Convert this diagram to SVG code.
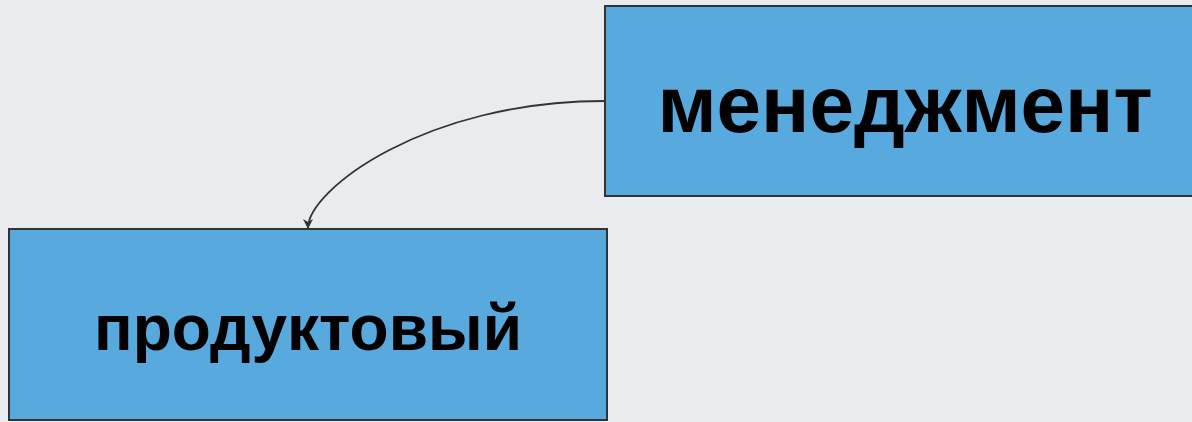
<svg xmlns="http://www.w3.org/2000/svg" width="1192" height="422" viewBox="0 0 1192 422">
<style>
.node{fill:#58a9de;stroke:#333;stroke-width:2}
.lbl{font-family:"Liberation Sans",Arial,sans-serif;font-weight:bold;fill:#000;text-anchor:middle}
.edge{fill:none;stroke:#333;stroke-width:1.8}
</style>
<defs>
<marker id="arr" viewBox="0 0 10 10" refX="9" refY="5" markerWidth="11" markerHeight="10" orient="auto" markerUnits="userSpaceOnUse">
<path d="M0,0 L10,5 L0,10 L3,5 Z" fill="#333"/>
</marker>
</defs>
<rect width="1192" height="422" fill="#eaebef"/>
<g id="connectors">
<path class="edge" d="M604,101 C425,101 308,190 308,228" marker-end="url(#arr)"/>
</g>
<g id="node-management">
<rect class="node" x="605" y="6" width="600" height="190"/>
<text class="lbl" x="905" y="132" font-size="80">менеджмент</text>
</g>
<g id="node-product">
<rect class="node" x="9" y="229" width="598" height="191"/>
<text class="lbl" x="308" y="350" font-size="64">продуктовый</text>
</g>
</svg>
